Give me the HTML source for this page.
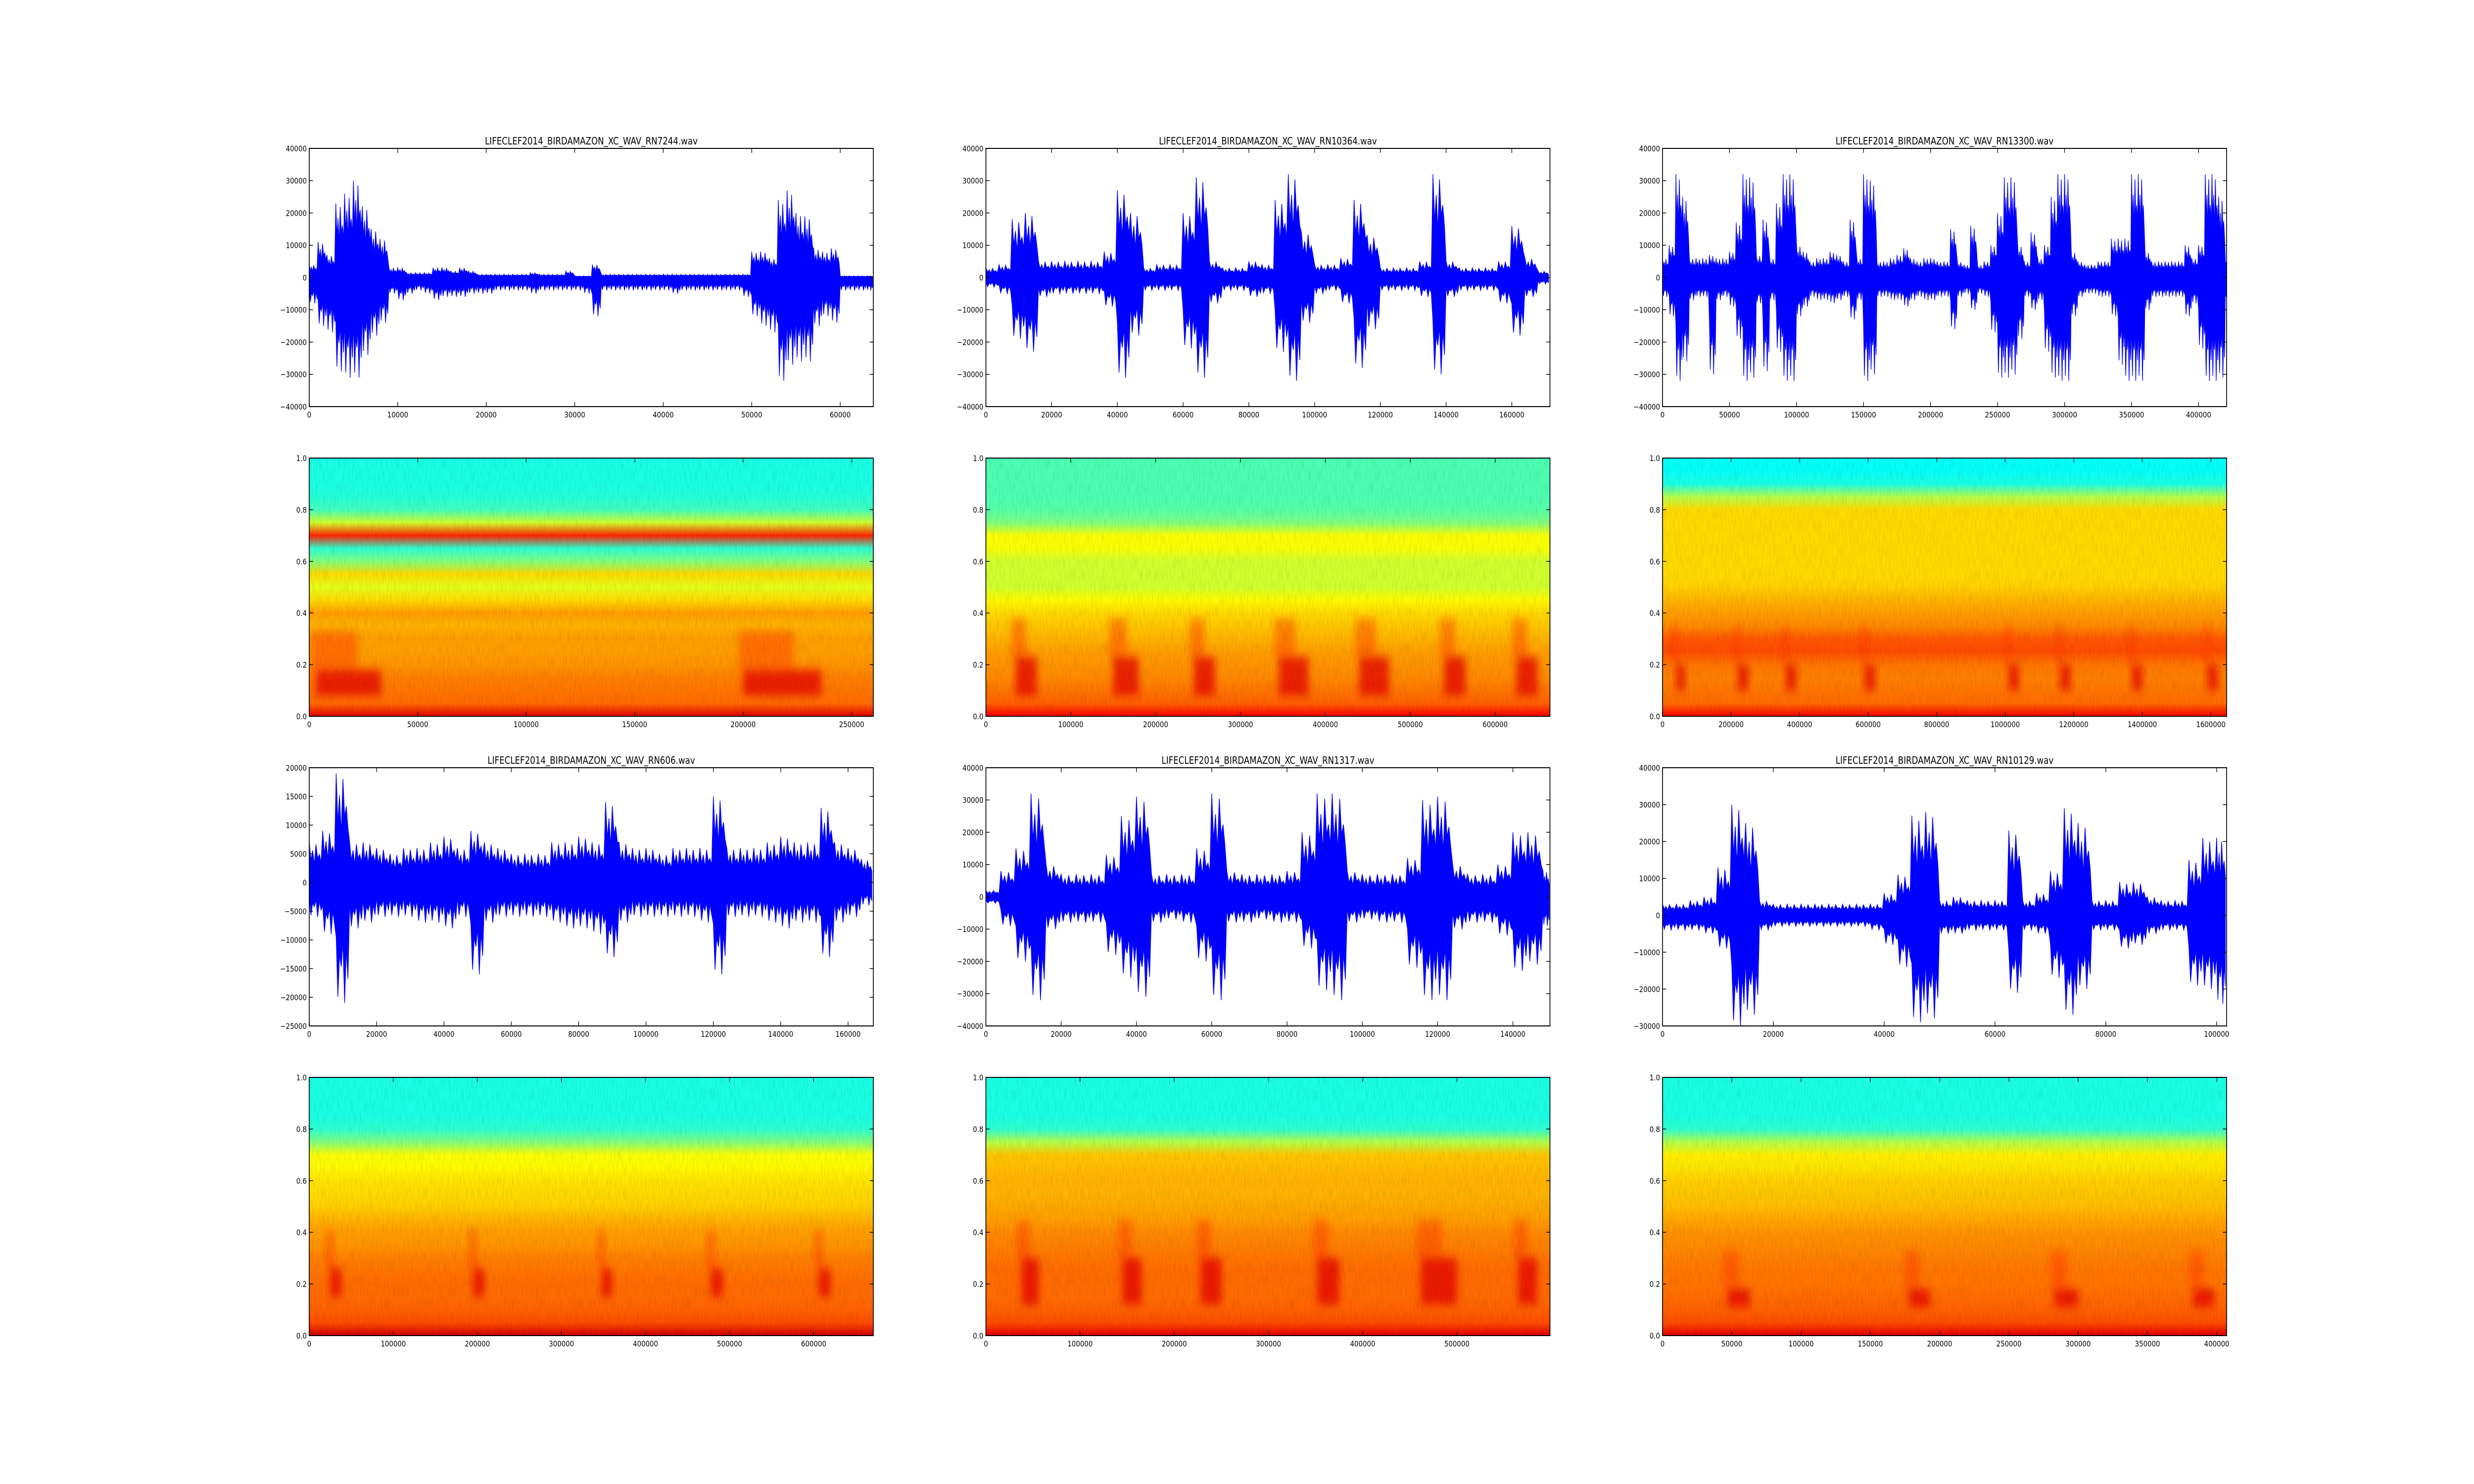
<!DOCTYPE html>
<html><head><meta charset="utf-8">
<style>
html,body{margin:0;padding:0;background:#fff;overflow:hidden;width:100%;height:100%;}
svg{display:block;font-family:"DejaVu Sans","Liberation Sans",sans-serif;width:100vw;height:100vh;}
</style></head>
<body>
<svg id="fig" viewBox="0 0 6000 3000" preserveAspectRatio="none" xmlns="http://www.w3.org/2000/svg">
<defs>
<filter id="blur" x="-50%" y="-50%" width="200%" height="200%"><feGaussianBlur stdDeviation="9"/></filter>
<filter id="grain" x="0" y="0" width="100%" height="100%">
<feTurbulence type="fractalNoise" baseFrequency="0.35 0.04" numOctaves="2" seed="3" result="n"/>
<feColorMatrix in="n" type="matrix" values="0 0 0 0 0  0 0 0 0 0  0 0 0 0 0  0 0 0 0.9 -0.35"/>
</filter>
</defs>
<rect width="6000" height="3000" fill="#fff"/>
</svg>
<script>
// ---------- DATA (waveform envelopes in thousands, uniform sample steps) ----------
const wave1Title = "LIFECLEF2014_BIRDAMAZON_XC_WAV_RN7244.wav";
const wave1XMax = 63740;
const wave1Step = 1000;
const wave1Upper = [4,11,7,23,26,30,22,15,12,3,3,1.5,1.5,1.5,3,3,2,3,2,1,1,1,1,1,1,1.5,1,1,1,2,0.5,0.5,4,1,1,1,1,1,1,1,1,1,1,1,1,1,1,1,1,1,8,8,6,24,27,20,19,9,8,9,0.5,0.5,0.5,0.5];
const wave1Lower = [-8,-15,-17,-29,-31,-31,-24,-18,-14,-5,-7,-5,-4,-5,-7,-6,-6,-6,-5,-5,-5,-4,-4,-4,-4,-5,-4,-4,-4,-4,-4,-5,-12,-4,-4,-4,-4,-4,-4,-4,-4,-5,-4,-4,-4,-4,-4,-4,-4,-6,-12,-15,-17,-32,-27,-26,-26,-15,-12,-14,-4,-4,-4,-4];
const wave1YTicks = [-40000,-30000,-20000,-10000,0,10000,20000,30000,40000];
const wave1XTicks = [0,10000,20000,30000,40000,50000,60000];

const wave2Title = "LIFECLEF2014_BIRDAMAZON_XC_WAV_RN10364.wav";
const wave2XMax = 171600;
const wave2Step = 4000;
const wave2Upper = [3,4,18,20,5,5,5,5,5,8,27,20,3,4,4,20,31,5,3,3,5,4,24,32,14,4,4,6,24,13,3,3,3,5,32,5,3,3,3,5,16,6,2];
const wave2Lower = [-3,-5,-19,-23,-6,-5,-5,-5,-5,-9,-31,-18,-4,-4,-4,-22,-31,-8,-4,-4,-6,-5,-23,-32,-14,-5,-4,-8,-28,-16,-4,-4,-4,-6,-30,-6,-4,-4,-4,-8,-18,-6,-2];
const wave2YTicks = [-40000,-30000,-20000,-10000,0,10000,20000,30000,40000];
const wave2XTicks = [0,20000,40000,60000,80000,100000,120000,140000,160000];

const wave3Title = "LIFECLEF2014_BIRDAMAZON_XC_WAV_RN13300.wav";
const wave3XMax = 420900;
const wave3Step = 5000;
const wave3Upper = [6,10,32,25,6,6,6,7,6,6,8,17,32,31,7,18,6,23,32,32,10,8,5,6,6,8,7,5,18,6,32,30,5,5,6,7,9,6,5,6,6,5,5,15,5,4,16,4,5,10,20,31,31,10,5,14,6,10,25,32,32,8,5,4,4,5,5,12,12,12,32,32,8,5,5,5,5,5,10,6,10,32,32,25,5];
const wave3Lower = [-6,-12,-32,-26,-7,-6,-6,-30,-7,-6,-9,-19,-32,-31,-8,-29,-7,-23,-32,-32,-12,-9,-6,-7,-7,-8,-7,-6,-13,-7,-32,-30,-6,-6,-7,-7,-9,-7,-6,-7,-7,-6,-6,-16,-6,-5,-10,-5,-6,-17,-31,-31,-30,-19,-6,-10,-7,-23,-31,-32,-32,-12,-6,-5,-5,-6,-6,-12,-27,-32,-32,-32,-10,-6,-6,-6,-6,-6,-12,-8,-22,-32,-32,-31,-6];
const wave3YTicks = [-40000,-30000,-20000,-10000,0,10000,20000,30000,40000];
const wave3XTicks = [0,50000,100000,150000,200000,250000,300000,350000,400000];

const wave4Title = "LIFECLEF2014_BIRDAMAZON_XC_WAV_RN606.wav";
const wave4XMax = 167500;
const wave4Step = 4000;
const wave4Upper = [7,9,19,7,7,6,5,6,6,7,8,6,9,7,6,5,5,5,7,7,8,7,14,7,6,6,5,6,6,6,15,6,6,6,7,8,7,7,13,7,6,4];
const wave4Lower = [-6,-9,-21,-8,-7,-6,-6,-6,-7,-7,-8,-6,-16,-7,-6,-6,-6,-6,-7,-8,-8,-9,-13,-7,-6,-6,-6,-6,-6,-7,-16,-6,-6,-6,-7,-8,-7,-7,-13,-7,-6,-4];
const wave4YTicks = [-25000,-20000,-15000,-10000,-5000,0,5000,10000,15000,20000];
const wave4XTicks = [0,20000,40000,60000,80000,100000,120000,140000,160000];

const wave5Title = "LIFECLEF2014_BIRDAMAZON_XC_WAV_RN1317.wav";
const wave5XMax = 149850;
const wave5Step = 4000;
const wave5Upper = [2,8,15,32,10,7,7,7,13,25,31,7,7,7,15,32,8,7,7,7,8,20,32,32,8,7,7,7,12,30,31,10,7,7,10,20,20,8];
const wave5Lower = [-2,-9,-20,-32,-10,-8,-8,-8,-18,-25,-31,-8,-7,-8,-20,-32,-8,-8,-7,-8,-8,-16,-29,-32,-8,-7,-8,-8,-22,-32,-32,-10,-8,-8,-12,-23,-21,-9];
const wave5YTicks = [-40000,-30000,-20000,-10000,0,10000,20000,30000,40000];
const wave5XTicks = [0,20000,40000,60000,80000,100000,120000,140000];

const wave6Title = "LIFECLEF2014_BIRDAMAZON_XC_WAV_RN10129.wav";
const wave6XMax = 101800;
const wave6Step = 2500;
const wave6Upper = [3,3,4,5,13,30,25,4,3,3,3,3,3,3,3,3,6,11,27,28,4,5,4,4,4,23,4,6,12,29,25,4,4,9,9,5,4,4,15,21,21];
const wave6Lower = [-4,-4,-4,-5,-9,-30,-27,-4,-3,-3,-3,-3,-3,-3,-3,-4,-8,-14,-29,-28,-5,-5,-4,-4,-4,-21,-4,-5,-17,-27,-20,-4,-4,-9,-8,-5,-4,-4,-19,-20,-24];
const wave6YTicks = [-30000,-20000,-10000,0,10000,20000,30000,40000];
const wave6XTicks = [0,20000,40000,60000,80000,100000];

// ---------- DATA (spectrograms: jet level per frequency 1.0 -> 0.0 step 0.05, event boxes) ----------
const specYTicks = [0,0.2,0.4,0.6,0.8,1.0];
const spec1XMax = 260000;
const spec1XTicks = [0,50000,100000,150000,200000,250000];
const spec1Profile = [0.40,0.40,0.40,0.41,0.44,0.58,0.84,0.42,0.50,0.66,0.60,0.66,0.72,0.70,0.72,0.72,0.73,0.75,0.76,0.77,0.9];
const spec1EventStart = [3000,200000];
const spec1EventEnd = [33000,236000];
const spec1EventLow = [0.08,0.08];
const spec1EventHigh = [0.18,0.18];

const spec2XMax = 664600;
const spec2XTicks = [0,100000,200000,300000,400000,500000,600000];
const spec2Profile = [0.45,0.45,0.45,0.45,0.46,0.50,0.62,0.62,0.58,0.58,0.58,0.63,0.66,0.68,0.70,0.72,0.73,0.74,0.76,0.78,0.88];
const spec2EventStart = [35000,150000,245000,345000,440000,540000,625000];
const spec2EventEnd = [60000,180000,270000,380000,475000,565000,650000];
const spec2EventLow = [0.08,0.08,0.08,0.08,0.08,0.08,0.08];
const spec2EventHigh = [0.23,0.23,0.23,0.23,0.23,0.23,0.23];

const spec3XMax = 1646000;
const spec3XTicks = [0,200000,400000,600000,800000,1000000,1200000,1400000,1600000];
const spec3Profile = [0.38,0.38,0.40,0.55,0.66,0.66,0.66,0.66,0.66,0.66,0.67,0.70,0.72,0.74,0.79,0.80,0.76,0.75,0.76,0.77,0.88];
const spec3EventStart = [40000,220000,360000,590000,1010000,1160000,1370000,1590000];
const spec3EventEnd = [65000,250000,390000,620000,1040000,1190000,1400000,1620000];
const spec3EventLow = [0.1,0.1,0.1,0.1,0.1,0.1,0.1,0.1];
const spec3EventHigh = [0.2,0.2,0.2,0.2,0.2,0.2,0.2,0.2];

const spec4XMax = 671000;
const spec4XTicks = [0,100000,200000,300000,400000,500000,600000];
const spec4Profile = [0.40,0.40,0.40,0.40,0.42,0.50,0.62,0.63,0.65,0.66,0.67,0.70,0.72,0.73,0.75,0.76,0.77,0.77,0.78,0.80,0.92];
const spec4EventStart = [25000,195000,348000,478000,606000];
const spec4EventEnd = [38000,208000,360000,492000,620000];
const spec4EventLow = [0.15,0.15,0.15,0.15,0.15];
const spec4EventHigh = [0.26,0.26,0.26,0.26,0.26];

const spec5XMax = 598800;
const spec5XTicks = [0,100000,200000,300000,400000,500000];
const spec5Profile = [0.40,0.40,0.40,0.40,0.42,0.55,0.68,0.69,0.70,0.70,0.71,0.72,0.74,0.75,0.76,0.77,0.77,0.77,0.78,0.80,0.90];
const spec5EventStart = [38000,145000,228000,352000,462000,565000];
const spec5EventEnd = [56000,165000,250000,375000,500000,585000];
const spec5EventLow = [0.12,0.12,0.12,0.12,0.12,0.12];
const spec5EventHigh = [0.3,0.3,0.3,0.3,0.3,0.3];

const spec6XMax = 407100;
const spec6XTicks = [0,50000,100000,150000,200000,250000,300000,350000,400000];
const spec6Profile = [0.40,0.40,0.40,0.40,0.42,0.55,0.64,0.65,0.67,0.68,0.69,0.71,0.73,0.74,0.75,0.76,0.76,0.77,0.78,0.80,0.90];
const spec6EventStart = [47000,178000,283000,383000];
const spec6EventEnd = [63000,193000,300000,398000];
const spec6EventLow = [0.11,0.11,0.11,0.11];
const spec6EventHigh = [0.18,0.18,0.18,0.18];

// ---------- LAYOUT ----------
const NS = "http://www.w3.org/2000/svg";
const svg = document.getElementById('fig');
const colX = [750, 2391, 4032];
const axW = 1368;
const rowY = [300, 926, 1552, 2178];
const axH = 522;
const spikePattern = [1, 0.55, 0.8, 0.45, 0.95, 0.6, 0.7, 0.5];

function el(tag, attrs, parent) {
  const e = document.createElementNS(NS, tag);
  for (const k in attrs) e.setAttribute(k, attrs[k]);
  (parent || svg).appendChild(e);
  return e;
}
function jet(v) {
  const c = x => Math.max(0, Math.min(1, x));
  const r = c(1.5 - Math.abs(4 * v - 3)), g = c(1.5 - Math.abs(4 * v - 2)), b = c(1.5 - Math.abs(4 * v - 1));
  return 'rgb(' + Math.round(r * 255) + ',' + Math.round(g * 255) + ',' + Math.round(b * 255) + ')';
}
function fmt(v) {
  const s = String(v);
  return v < 0 ? '\u2212' + s.slice(1) : s;
}
function fmtSpec(v) { return v.toFixed(1); }

function drawAxes(g, x0, y0, xTicks, yTicks, sx, sy, yFmt) {
  el('rect', {x: x0, y: y0, width: axW, height: axH, fill: 'none', stroke: '#000', 'stroke-width': 2}, g);
  xTicks.forEach(t => {
    const x = sx(t);
    el('line', {x1: x, y1: y0 + axH, x2: x, y2: y0 + axH - 9, stroke: '#000', 'stroke-width': 1.5}, g);
    el('line', {x1: x, y1: y0, x2: x, y2: y0 + 9, stroke: '#000', 'stroke-width': 1.5}, g);
    const tx = el('text', {x: x, y: y0 + axH + 22, 'font-size': 16, 'text-anchor': 'middle', fill: '#000'}, g);
    
    
    tx.textContent = fmt(t);
  });
  yTicks.forEach(t => {
    const y = sy(t);
    el('line', {x1: x0, y1: y, x2: x0 + 9, y2: y, stroke: '#000', 'stroke-width': 1.5}, g);
    el('line', {x1: x0 + axW, y1: y, x2: x0 + axW - 9, y2: y, stroke: '#000', 'stroke-width': 1.5}, g);
    const ty = el('text', {x: x0 - 6, y: y + 6, 'font-size': 16, 'text-anchor': 'end', fill: '#000'}, g);
    
    
    ty.textContent = yFmt(t);
  });
}

function drawWave(col, row, title, xMax, step, upper, lower, yTicks, xTicks) {
  const x0 = colX[col], y0 = rowY[row];
  const yMin = yTicks[0], yMax = yTicks[yTicks.length - 1];
  const sx = v => x0 + v / xMax * axW;
  const sy = v => y0 + (yMax - v) / (yMax - yMin) * axH;
  const g = el('g', {});
  
  
  const cp = el('clipPath', {id: 'clipw' + col + row}, g);
  el('rect', {x: x0, y: y0, width: axW, height: axH}, cp);
  const n = upper.length;
  const top = [], bot = [];
  for (let i = 0; i < n; i++) {
    const xa = i * step, xb = Math.min((i + 1) * step, xMax);
    const u = upper[i] * 1000, l = lower[i] * 1000;
    const mid = 0;
    const sub = spikePattern.length;
    for (let j = 0; j < sub; j++) {
      const xv = xa + (xb - xa) * j / sub;
      const fu = spikePattern[j], fl = spikePattern[(j + 3) % sub];
      top.push([sx(xv), sy(u * fu)]);
      bot.push([sx(xv), sy(l * fl)]);
    }
  }
  let d = 'M' + top.map(p => p[0].toFixed(1) + ',' + p[1].toFixed(1)).join('L');
  d += 'L' + bot.slice().reverse().map(p => p[0].toFixed(1) + ',' + p[1].toFixed(1)).join('L') + 'Z';
  const wp = el('path', {d: d, fill: '#0000ff', stroke: '#0000ff', 'stroke-width': 1.5, 'clip-path': 'url(#clipw' + col + row + ')'}, g);
  
  
  drawAxes(g, x0, y0, xTicks, yTicks, sx, sy, fmt);
  const tt = el('text', {x: x0 + axW / 2, y: y0 - 8, 'font-size': 20, 'text-anchor': 'middle', fill: '#000'}, g);
  
  
  tt.textContent = title;
}

function drawSpec(col, row, xMax, xTicks, profile, evS, evE, evL, evH) {
  const x0 = colX[col], y0 = rowY[row];
  const sx = v => x0 + v / xMax * axW;
  const sy = v => y0 + (1 - v) * axH;
  const g = el('g', {});
  
  
  const gid = 'grad' + col + row;
  const lg = el('linearGradient', {id: gid, x1: 0, y1: 0, x2: 0, y2: 1}, g);
  profile.forEach((v, i) => {
    el('stop', {offset: (i / (profile.length - 1)).toFixed(3), 'stop-color': jet(v)}, lg);
  });
  const cp = el('clipPath', {id: 'clips' + col + row}, g);
  el('rect', {x: x0, y: y0, width: axW, height: axH}, cp);
  const bg = el('rect', {x: x0, y: y0, width: axW, height: axH, fill: 'url(#' + gid + ')'}, g);
  
  
  const eg = el('g', {'clip-path': 'url(#clips' + col + row + ')'}, g);
  evS.forEach((s, i) => {
    const xa = sx(s), xb = sx(evE[i]);
    const st = el('rect', {x: xa - 10, y: sy(evH[i] + 0.15), width: (xb - xa) * 0.7, height: sy(evH[i]) - sy(evH[i] + 0.15), fill: jet(0.82), opacity: 0.45, filter: 'url(#blur)'}, eg);
    
    
    const r = el('rect', {x: xa, y: sy(evH[i]), width: xb - xa, height: sy(evL[i]) - sy(evH[i]), fill: jet(0.9), opacity: 0.75, filter: 'url(#blur)'}, eg);
    
    
  });
  el('rect', {x: x0, y: y0, width: axW, height: axH, fill: '#000', filter: 'url(#grain)', opacity: 0.18}, eg);
  drawAxes(g, x0, y0, xTicks, specYTicks, sx, sy, fmtSpec);
}

drawWave(0, 0, wave1Title, wave1XMax, wave1Step, wave1Upper, wave1Lower, wave1YTicks, wave1XTicks);
drawWave(1, 0, wave2Title, wave2XMax, wave2Step, wave2Upper, wave2Lower, wave2YTicks, wave2XTicks);
drawWave(2, 0, wave3Title, wave3XMax, wave3Step, wave3Upper, wave3Lower, wave3YTicks, wave3XTicks);
drawSpec(0, 1, spec1XMax, spec1XTicks, spec1Profile, spec1EventStart, spec1EventEnd, spec1EventLow, spec1EventHigh);
drawSpec(1, 1, spec2XMax, spec2XTicks, spec2Profile, spec2EventStart, spec2EventEnd, spec2EventLow, spec2EventHigh);
drawSpec(2, 1, spec3XMax, spec3XTicks, spec3Profile, spec3EventStart, spec3EventEnd, spec3EventLow, spec3EventHigh);
drawWave(0, 2, wave4Title, wave4XMax, wave4Step, wave4Upper, wave4Lower, wave4YTicks, wave4XTicks);
drawWave(1, 2, wave5Title, wave5XMax, wave5Step, wave5Upper, wave5Lower, wave5YTicks, wave5XTicks);
drawWave(2, 2, wave6Title, wave6XMax, wave6Step, wave6Upper, wave6Lower, wave6YTicks, wave6XTicks);
drawSpec(0, 3, spec4XMax, spec4XTicks, spec4Profile, spec4EventStart, spec4EventEnd, spec4EventLow, spec4EventHigh);
drawSpec(1, 3, spec5XMax, spec5XTicks, spec5Profile, spec5EventStart, spec5EventEnd, spec5EventLow, spec5EventHigh);
drawSpec(2, 3, spec6XMax, spec6XTicks, spec6Profile, spec6EventStart, spec6EventEnd, spec6EventLow, spec6EventHigh);
</script>
</body></html>
